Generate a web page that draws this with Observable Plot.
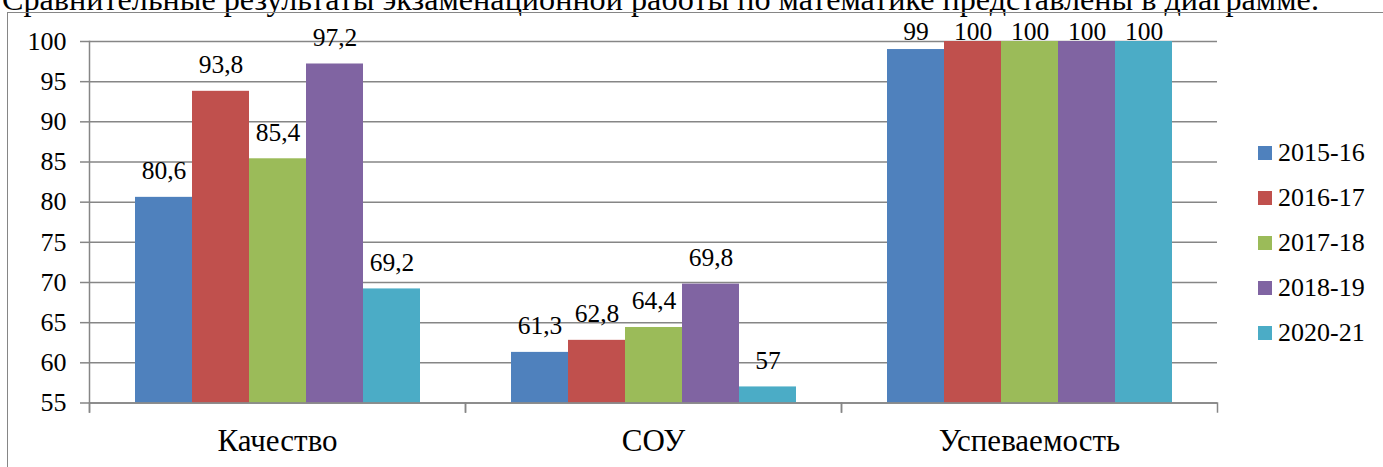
<!DOCTYPE html>
<html>
<head>
<meta charset="utf-8">
<script src="https://cdn.jsdelivr.net/npm/d3@7"></script>
<script src="https://cdn.jsdelivr.net/npm/@observablehq/plot@0.6"></script>
<style>
  html, body { margin: 0; padding: 0; background: #fff; overflow: hidden; }
  #page { position: relative; width: 1383px; height: 467px; overflow: hidden; font-family: "Liberation Serif", "Times New Roman", serif; }
  #intro { position: absolute; left: 2px; top: -17px; font-size: 32.2px; line-height: 1; white-space: nowrap; color: #000; font-family: "Liberation Serif", serif; }
  #box { position: absolute; left: 7px; top: 12px; width: 1500px; height: 600px; border: 1.5px solid #868686; box-sizing: border-box; }
  #chart { position: absolute; left: 0; top: 0; }
  #chart svg, #chart svg text { font-family: "Liberation Serif", serif !important; }
  #legend { position: absolute; left: 1258px; top: 0; font-family: "Liberation Serif", serif; }
  .item { position: absolute; left: 0; height: 30px; display: flex; align-items: center; white-space: nowrap; font-size: 26px; line-height: 1; font-family: "Liberation Serif", serif; color: #000; }
  .sw { width: 14px; height: 14px; margin-right: 6px; flex: none; }
</style>
</head>
<body>
<div id="page">
  <div id="intro">Сравнительные результаты экзаменационной работы по математике представлены в диаграмме.</div>
  <div id="box"></div>
  <div id="chart"></div>
  <div id="legend"></div>
</div>
<script>
const categories = ["Качество", "СОУ", "Успеваемость"];
const years = ["2015-16", "2016-17", "2017-18", "2018-19", "2020-21"];
const colors = ["#4F81BD", "#C0504D", "#9BBB59", "#8064A2", "#4BACC6"];
const values2015 = [80.6, 61.3, 99];
const values2016 = [93.8, 62.8, 100];
const values2017 = [85.4, 64.4, 100];
const values2018 = [97.2, 69.8, 100];
const values2020 = [69.2, 57, 100];
const yDomain = [55, 100];
const yTicks = [55, 60, 65, 70, 75, 80, 85, 90, 95, 100];
const labelCeiling = 97.9; // labels of taller bars are kept inside the plot area

const series = [values2015, values2016, values2017, values2018, values2020];
const data = [];
categories.forEach((c, ci) => {
  years.forEach((yr, yi) => {
    data.push({cat: c, year: yr, value: series[yi][ci]});
  });
});

const gray = "#868686";
const font = "Liberation Serif, serif";
const plot = Plot.plot({
  width: 1383,
  height: 467,
  marginLeft: 89,
  marginRight: 166,
  marginTop: 41,
  marginBottom: 64.5,
  style: {fontFamily: font, background: "transparent", overflow: "visible"},
  fx: {domain: categories, padding: 0, axis: null},
  x: {domain: years, paddingInner: 0, paddingOuter: 0.75, axis: null},
  y: {domain: yDomain, axis: null},
  color: {domain: years, range: colors},
  marks: [
    Plot.gridY(yTicks, {stroke: gray, strokeOpacity: 1, strokeWidth: 1.5}),
    Plot.barY(data, {fx: "cat", x: "year", y1: yDomain[0], y2: "value", fill: "year"}),
    Plot.ruleY([yDomain[0]], {stroke: gray, strokeWidth: 1.5}),
    Plot.frame({anchor: "left", facetAnchor: "left", insetBottom: -9, stroke: gray, strokeWidth: 1.5}),
    Plot.frame({anchor: "left", insetTop: 361.5, insetBottom: -9, stroke: gray, strokeWidth: 1.5}),
    Plot.frame({anchor: "right", insetTop: 361.5, insetBottom: -9, stroke: gray, strokeWidth: 1.5}),
    Plot.axisY({ticks: yTicks, tickSize: 9, tickPadding: 14, fontSize: 26, stroke: gray, strokeWidth: 1.5, fill: "#000", tickFormat: d => String(d), anchor: "left", label: null, fontFamily: font}),
    Plot.axisFx({anchor: "bottom", tickSize: 0, tickPadding: 26, fontSize: 31, fill: "#000", label: null, fontFamily: font}),
    Plot.text(data, {fx: "cat", x: "year", y: d => Math.min(d.value, labelCeiling), text: d => String(d.value).replace(".", ","), lineAnchor: "bottom", dy: -18, fontSize: 25.5, fill: "#000", fontFamily: font})
  ]
});
document.getElementById("chart").appendChild(plot);

const legend = document.getElementById("legend");
years.forEach((yr, i) => {
  const item = document.createElement("div");
  item.className = "item";
  item.style.top = (138 + 45 * i) + "px";
  const sw = document.createElement("span");
  sw.className = "sw";
  sw.style.background = colors[i];
  const t = document.createElement("span");
  t.textContent = yr;
  item.appendChild(sw);
  item.appendChild(t);
  legend.appendChild(item);
});
</script>
</body>
</html>
